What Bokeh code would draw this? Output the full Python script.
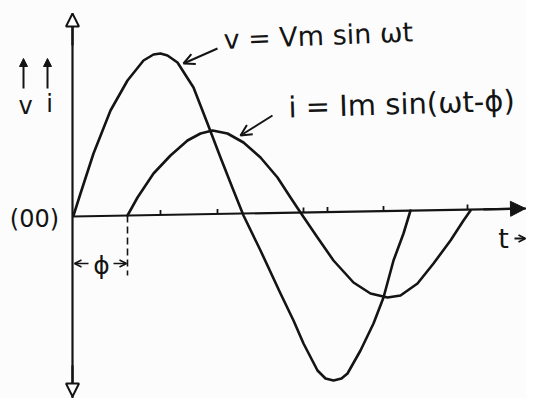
from bokeh.plotting import figure
from bokeh.models import Range1d, Arrow, NormalHead, OpenHead, Label
from bokeh.embed import file_html
from bokeh.resources import INLINE

# ---- data (t in arbitrary units, origin at the axes' crossing) ----
v_t = [0, 7, 20, 37, 54, 70, 80, 87, 94, 104, 120, 134, 147, 160, 170, 187, 207, 220,
       230, 244, 252, 260, 268, 274, 287, 300, 310, 320, 330, 337]
v_val = [0, 22, 62, 105, 135, 155, 161, 162, 160, 153, 128, 92, 58, 25, 0, -35, -78, -105,
         -128, -155, -163, -165, -163, -158, -135, -108, -82, -45, -18, 5]

i_t = [54, 64, 80, 97, 114, 127, 139, 154, 170, 187, 204, 217, 227, 244, 260, 280, 297,
       314, 327, 344, 360, 377, 390, 397]
i_val = [0, 18, 42, 60, 75, 82, 85, 82, 73, 58, 38, 18, 3, -22, -45, -67, -78,
         -82, -80, -68, -48, -25, -5, 5]

phi_t = 54                      # current lags voltage by phi
tick_t = [87, 144, 230, 254, 310, 394]

v_label = "v = Vm sin ωt"
i_label = "i = Im sin(ωt-ϕ)"
origin_label = "(00)"
t_label = "t"
phi_label = "ϕ"

INK = "#141414"
FONT = "DejaVu Sans"

p = figure(width=526, height=398, x_range=Range1d(-73, 453), y_range=Range1d(-183, 215),
           x_axis_type=None, y_axis_type=None, output_backend="svg",
           toolbar_location=None, min_border=0)
p.grid.visible = False
p.outline_line_color = None
p.background_fill_color = "#fcfcfc"
p.border_fill_color = "#fcfcfc"

# ---- hand drawn axes ----
p.segment(x0=[-1], y0=[202], x1=[-1], y1=[-199], line_color=INK, line_width=2.2)
p.segment(x0=[-1], y0=[-1], x1=[453], y1=[7], line_color=INK, line_width=2.2)
p.add_layout(Arrow(end=NormalHead(size=13, fill_color="white", line_color=INK, line_width=2),
                   x_start=-1, y_start=170, x_end=-1, y_end=202, line_color=INK, line_width=2.2))
p.add_layout(Arrow(end=NormalHead(size=13, fill_color="white", line_color=INK, line_width=2),
                   x_start=-1, y_start=-150, x_end=-1, y_end=-181, line_color=INK, line_width=2.2))
p.add_layout(Arrow(end=NormalHead(size=15, fill_color=INK, line_color=INK, line_width=1),
                   x_start=410, y_start=6.2, x_end=452, y_end=7, line_color=INK, line_width=2.2))

# small tick marks on the time axis
base = [-1 + (t + 1) * 8 / 454 for t in tick_t]
p.segment(x0=tick_t, y0=base, x1=tick_t, y1=[b + 5 for b in base], line_color=INK, line_width=1.8)

# ---- the two waves ----
p.line(v_t, v_val, line_color=INK, line_width=2.6, line_join="round", line_cap="round")
p.line(i_t, i_val, line_color=INK, line_width=2.6, line_join="round", line_cap="round")

# ---- phase angle marker ----
p.segment(x0=[phi_t], y0=[0], x1=[phi_t], y1=[-60], line_color=INK, line_width=1.6,
          line_dash="7 4")
p.add_layout(Arrow(end=OpenHead(size=7, line_color=INK, line_width=1.6),
                   x_start=15, y_start=-48, x_end=1, y_end=-48, line_color=INK, line_width=1.6))
p.add_layout(Arrow(end=OpenHead(size=7, line_color=INK, line_width=1.6),
                   x_start=40, y_start=-48, x_end=phi_t - 1, y_end=-48, line_color=INK,
                   line_width=1.6))
p.add_layout(Label(x=28, y=-50, text=phi_label, text_font=FONT, text_font_size="25px",
                   text_color=INK, text_align="center", text_baseline="middle"))

# ---- labels with pointer arrows ----
p.add_layout(Label(x=150, y=176, text=v_label, text_font=FONT, text_font_size="27px",
                   text_color=INK, text_align="left", text_baseline="middle", angle=0.04))
p.add_layout(Arrow(end=OpenHead(size=11, line_color=INK, line_width=2),
                   x_start=144, y_start=167, x_end=110, y_end=152, line_color=INK, line_width=2))
p.add_layout(Label(x=215, y=108, text=i_label, text_font=FONT, text_font_size="29px",
                   text_color=INK, text_align="left", text_baseline="middle", angle=0.03))
p.add_layout(Arrow(end=OpenHead(size=11, line_color=INK, line_width=2),
                   x_start=199, y_start=100, x_end=167, y_end=80, line_color=INK, line_width=2))

p.add_layout(Label(x=-39, y=-3, text=origin_label, text_font=FONT, text_font_size="24px",
                   text_color=INK, text_align="center", text_baseline="middle"))

# v and i axis labels with up arrows
for ax_x in (-50, -26):
    p.add_layout(Arrow(end=NormalHead(size=8, fill_color=INK, line_color=INK, line_width=1),
                       x_start=ax_x, y_start=127, x_end=ax_x, y_end=157, line_color=INK,
                       line_width=2))
p.add_layout(Label(x=-48, y=110, text="v", text_font=FONT, text_font_size="24px",
                   text_color=INK, text_align="center", text_baseline="middle"))
p.add_layout(Label(x=-24, y=112, text="i", text_font=FONT, text_font_size="24px",
                   text_color=INK, text_align="center", text_baseline="middle"))

# t ->
p.add_layout(Label(x=430, y=-23, text=t_label, text_font=FONT, text_font_size="27px",
                   text_color=INK, text_align="center", text_baseline="middle"))
p.add_layout(Arrow(end=OpenHead(size=7, line_color=INK, line_width=1.8),
                   x_start=441, y_start=-23, x_end=452, y_end=-23, line_color=INK,
                   line_width=1.8))

open("out.html", "w").write(file_html(p, INLINE))
